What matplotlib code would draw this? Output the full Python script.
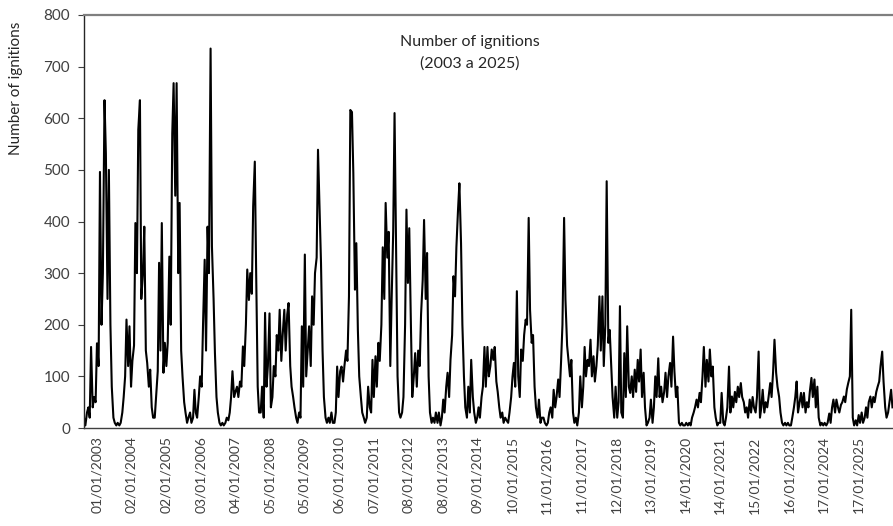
import numpy as np
import pandas as pd
import matplotlib
matplotlib.use("Agg")
import matplotlib.pyplot as plt
from matplotlib.transforms import ScaledTranslation

# semi-monthly readings (1st and 15th of each month)
ign_2003 = [20, 5, 30, 40, 20, 157, 40, 60, 50, 164, 120, 496, 200, 300, 635, 532, 250, 500, 200, 80, 20, 10, 5, 10]
ign_2004 = [5, 10, 30, 60, 100, 210, 120, 197, 80, 130, 160, 397, 300, 578, 635, 250, 300, 390, 150, 126, 80, 113, 40, 20]
ign_2005 = [20, 60, 110, 320, 150, 397, 107, 165, 120, 165, 332, 200, 570, 668, 450, 668, 300, 436, 150, 100, 50, 30, 10, 20]
ign_2006 = [30, 10, 20, 74, 30, 20, 60, 100, 80, 200, 326, 150, 390, 300, 735, 352, 250, 145, 60, 30, 10, 5, 10, 5]
ign_2007 = [10, 20, 15, 30, 60, 110, 60, 70, 80, 60, 90, 80, 158, 120, 200, 307, 248, 300, 260, 429, 516, 300, 80, 30]
ign_2008 = [30, 80, 20, 223, 80, 120, 222, 40, 60, 120, 100, 180, 150, 229, 130, 180, 229, 150, 220, 242, 120, 80, 60, 40]
ign_2009 = [20, 10, 30, 20, 197, 80, 336, 100, 150, 197, 120, 255, 200, 300, 330, 539, 416, 320, 150, 60, 20, 10, 20, 10]
ign_2010 = [30, 10, 10, 30, 119, 60, 110, 119, 90, 120, 150, 130, 255, 616, 612, 494, 268, 358, 190, 100, 60, 30, 20, 10]
ign_2011 = [20, 80, 40, 30, 132, 60, 139, 80, 165, 130, 200, 350, 250, 436, 330, 380, 120, 250, 380, 610, 330, 100, 30, 20]
ign_2012 = [30, 60, 200, 423, 281, 387, 200, 60, 100, 145, 80, 150, 120, 220, 287, 403, 250, 339, 100, 30, 10, 20, 10, 30]
ign_2013 = [10, 30, 5, 20, 55, 30, 80, 107, 60, 132, 180, 294, 255, 350, 423, 474, 358, 200, 100, 40, 20, 80, 30, 132]
ign_2014 = [60, 30, 10, 20, 40, 20, 60, 80, 157, 80, 157, 100, 120, 152, 132, 157, 90, 70, 40, 20, 30, 10, 20, 15]
ign_2015 = [10, 30, 60, 100, 126, 80, 265, 100, 60, 152, 130, 180, 210, 200, 407, 229, 165, 180, 80, 40, 20, 55, 10, 20]
ign_2016 = [20, 10, 5, 10, 30, 40, 20, 74, 40, 60, 94, 60, 130, 200, 407, 249, 160, 132, 100, 132, 30, 10, 20, 5]
ign_2017 = [30, 100, 40, 80, 157, 100, 132, 120, 171, 100, 139, 90, 120, 160, 255, 150, 255, 120, 200, 478, 165, 190, 120, 60]
ign_2018 = [20, 80, 20, 50, 236, 30, 20, 145, 60, 197, 80, 68, 100, 60, 113, 70, 132, 90, 152, 60, 107, 40, 5, 10]
ign_2019 = [20, 55, 10, 40, 100, 60, 135, 60, 80, 50, 70, 107, 60, 100, 126, 80, 177, 110, 60, 80, 10, 5, 10, 5]
ign_2020 = [5, 10, 5, 10, 5, 20, 30, 40, 55, 40, 68, 50, 100, 157, 80, 132, 90, 152, 100, 119, 40, 20, 5, 10]
ign_2021 = [10, 68, 10, 5, 20, 40, 119, 30, 61, 40, 70, 50, 80, 60, 87, 60, 50, 30, 40, 20, 55, 30, 60, 40]
ign_2022 = [30, 60, 148, 20, 40, 74, 30, 50, 40, 60, 87, 60, 110, 171, 107, 80, 60, 30, 10, 5, 10, 5, 10, 5]
ign_2023 = [5, 20, 40, 60, 90, 30, 50, 68, 40, 68, 30, 50, 40, 70, 97, 60, 94, 40, 80, 20, 5, 10, 5, 10]
ign_2024 = [5, 10, 28, 10, 40, 55, 30, 55, 40, 30, 45, 50, 61, 50, 75, 87, 100, 229, 20, 5, 15, 5, 25, 10]
ign_2025 = [30, 10, 20, 40, 20, 50, 61, 40, 60, 50, 70, 80, 90, 120, 148, 90, 40, 20, 30, 50, 74, 40]

tick_labels = ["01/01/2003", "02/01/2004", "02/01/2005", "03/01/2006", "04/01/2007",
               "05/01/2008", "05/01/2009", "06/01/2010", "07/01/2011", "08/01/2012",
               "08/01/2013", "09/01/2014", "10/01/2015", "11/01/2016", "11/01/2017",
               "12/01/2018", "13/01/2019", "14/01/2020", "14/01/2021", "15/01/2022",
               "16/01/2023", "17/01/2024", "17/01/2025"]

values = (ign_2003 + ign_2004 + ign_2005 + ign_2006 + ign_2007 + ign_2008 + ign_2009
          + ign_2010 + ign_2011 + ign_2012 + ign_2013 + ign_2014 + ign_2015 + ign_2016
          + ign_2017 + ign_2018 + ign_2019 + ign_2020 + ign_2021 + ign_2022 + ign_2023
          + ign_2024 + ign_2025)
dates = pd.date_range("2003-01-01", periods=len(values), freq="SMS")
tick_dates = pd.to_datetime(tick_labels, format="%d/%m/%Y")

plt.rcParams["font.family"] = ["Lato", "DejaVu Sans"]
grey = "#404040"

W, H = 893, 526
fig = plt.figure(figsize=(W / 100, H / 100), dpi=100)
# plot area runs past the right edge of the picture, like the cropped original
ax_left, ax_right = 84, 897
ax = fig.add_axes([ax_left / W, 1 - 428 / H, (ax_right - ax_left) / W, (428 - 15) / H])

ax.plot(dates, values, color="black", linewidth=1.5)

x0, x1 = pd.Timestamp("2003-01-01"), pd.Timestamp("2026-01-01")
ax.set_xlim(x0, x1)
ax.set_ylim(0, 800)
ax.set_yticks(np.arange(0, 801, 100))
ax.tick_params(axis="y", labelsize=11, colors=grey, length=4, width=0.8, pad=6)

ax.set_xticks(tick_dates)
ax.set_xticklabels(tick_labels, rotation=90, fontsize=10, color=grey)
ax.tick_params(axis="x", length=0, pad=6, colors=grey)
# the original spreads its rotated labels a bit tighter than the date scale:
# nudge each label to where it sits in the picture
span = (x1 - x0).days
for k, lab in enumerate(ax.get_xticklabels()):
    tick_px = ax_left + (ax_right - ax_left) * (tick_dates[k] - x0).days / span
    shift = (97 + 34.6 * k) - tick_px
    lab.set_transform(lab.get_transform() + ScaledTranslation(shift / 100, 0, fig.dpi_scale_trans))

ax.spines["left"].set_color("#262626")
ax.spines["left"].set_linewidth(1.0)
ax.spines["bottom"].set_color(grey)
ax.spines["bottom"].set_linewidth(1.0)
ax.spines["top"].set_color("#7f7f7f")
ax.spines["top"].set_linewidth(1.6)
ax.spines["right"].set_visible(False)

fig.text(470 / W, 1 - 53 / H, "Number of ignitions\n(2003 a 2025)", ha="center", va="center",
         fontsize=11.5, color="#262626", linespacing=1.6)
fig.text(16 / W, 1 - 88 / H, "Number of ignitions", rotation=90, ha="center", va="center",
         fontsize=11, color="#262626")

fig.savefig("out.png", dpi=100)
